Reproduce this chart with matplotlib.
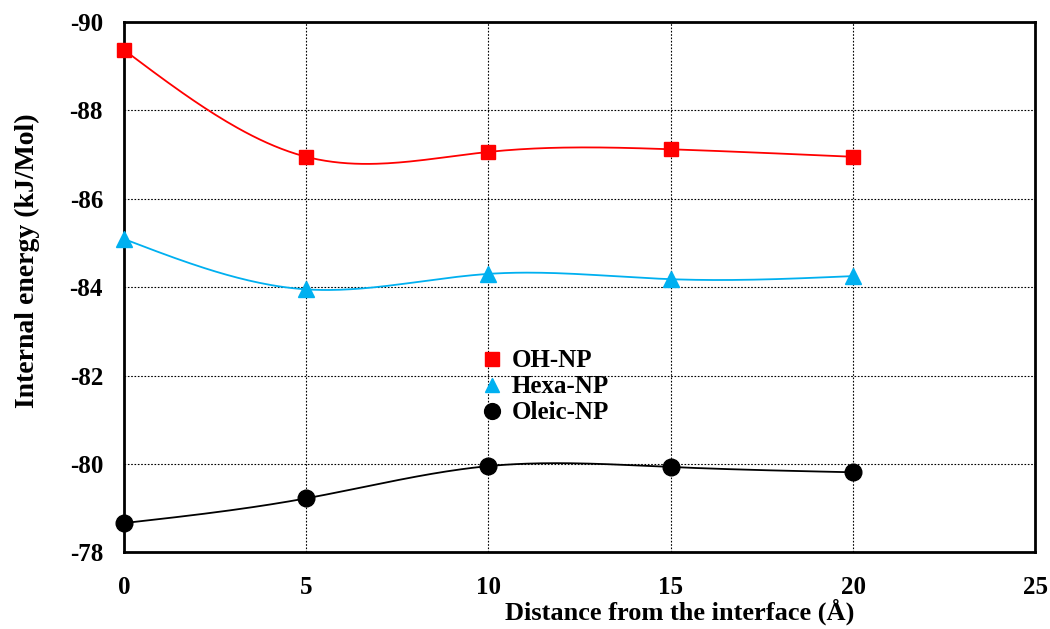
import numpy as np
import matplotlib.pyplot as plt

# ----------------- Data -----------------
distance = [0, 5, 10, 15, 20]
oh_np = [-89.37, -86.95, -87.06, -87.12, -86.95]
hexa_np = [-85.09, -83.95, -84.30, -84.18, -84.25]
oleic_np = [-78.66, -79.22, -79.95, -79.93, -79.81]

series = [
    ("OH-NP", oh_np, "#FF0000", "s", 10),
    ("Hexa-NP", hexa_np, "#00B0F0", "^", 11),
    ("Oleic-NP", oleic_np, "black", "o", 12),
]

plt.rcParams['font.family'] = ['Liberation Serif', 'DejaVu Serif']
plt.rcParams['font.weight'] = 'bold'
plt.rcParams['axes.unicode_minus'] = False


# ----------------- smoothed line (natural cubic spline) -----------------
def smooth(x, y, n=200):
    x = np.asarray(x, float)
    y = np.asarray(y, float)
    k = len(x)
    h = np.diff(x)
    A = np.zeros((k, k))
    r = np.zeros(k)
    A[0, 0] = A[-1, -1] = 1
    for i in range(1, k - 1):
        A[i, i - 1] = h[i - 1]
        A[i, i] = 2 * (h[i - 1] + h[i])
        A[i, i + 1] = h[i]
        r[i] = 6 * ((y[i + 1] - y[i]) / h[i] - (y[i] - y[i - 1]) / h[i - 1])
    M = np.linalg.solve(A, r)
    xs = np.linspace(x[0], x[-1], n)
    ys = np.empty_like(xs)
    for j, xv in enumerate(xs):
        i = min(np.searchsorted(x, xv, side="right") - 1, k - 2)
        t1 = x[i + 1] - xv
        t0 = xv - x[i]
        ys[j] = (M[i] * t1 ** 3 + M[i + 1] * t0 ** 3) / (6 * h[i]) \
            + (y[i] / h[i] - M[i] * h[i] / 6) * t1 \
            + (y[i + 1] / h[i] - M[i + 1] * h[i] / 6) * t0
    return xs, ys


fig, ax = plt.subplots(figsize=(10.5, 6.29), dpi=100)
fig.subplots_adjust(left=0.118, right=0.986, top=0.965, bottom=0.122)

for name, vals, col, mk, ms in series:
    sx, sy = smooth(distance, vals)
    ax.plot(sx, sy, color=col, linewidth=1.3, zorder=2)
    ax.plot(distance, vals, linestyle="none", marker=mk, color=col,
            markersize=ms, label=name, zorder=3, clip_on=False)

ax.set_xlim(0, 25)
ax.set_ylim(-78, -90)
ax.set_xticks(range(0, 26, 5))
ax.set_yticks(range(-90, -77, 2))
ax.tick_params(length=0, labelsize=18)
ax.tick_params(axis='x', pad=17)
ax.tick_params(axis='y', pad=15)
for lab in ax.get_xticklabels() + ax.get_yticklabels():
    lab.set_fontweight('bold')

ax.grid(True, color="black", linestyle=(0, (1.5, 1.5)), linewidth=0.8)
for s in ax.spines.values():
    s.set_linewidth(2)

ax.set_xlabel("Distance from the interface (Å)", fontsize=19, fontweight='bold')
ax.xaxis.set_label_coords(0.61, -0.087)
ax.set_ylabel("Internal energy (kJ/Mol)", fontsize=20, fontweight='bold')
ax.yaxis.set_label_coords(-0.092, 0.55)

ax.legend(loc="upper left", bbox_to_anchor=(0.368, 0.425), frameon=False,
          handletextpad=0.4, labelspacing=0.12, handlelength=0.8,
          markerscale=0.95, prop={'weight': 'bold', 'size': 18})

plt.savefig("out.png", dpi=100)
plt.close()
